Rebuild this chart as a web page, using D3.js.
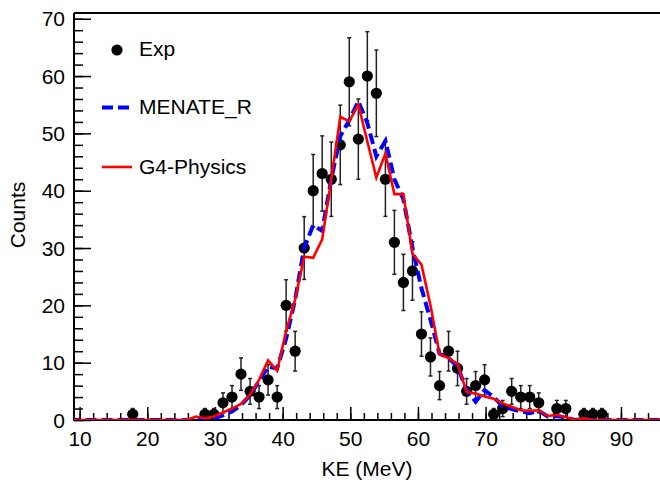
<!DOCTYPE html>
<html>
<head>
<meta charset="utf-8">
<script src="https://cdn.jsdelivr.net/npm/d3@7"></script>
<style>
  html, body { margin: 0; padding: 0; background: #fff; }
  svg { display: block; font-family: "Liberation Sans", Arial, sans-serif; }
</style>
</head>
<body>
<svg id="chart" width="660" height="482"></svg>
<script>
// Measured spectrum: bin centres (MeV), counts and statistical errors
const expE = [17.85, 28.52, 29.85, 31.19, 32.52, 33.85, 35.19, 36.52, 37.85, 39.19,
  40.52, 41.85, 43.19, 44.52, 45.85, 47.19, 48.52, 49.85, 51.19, 52.52,
  53.85, 55.19, 56.52, 57.85, 59.19, 60.52, 61.85, 63.19, 64.52, 65.85,
  67.19, 68.52, 69.85, 71.19, 72.52, 73.85, 75.19, 76.52, 77.85, 80.52,
  81.85, 84.52, 85.85, 87.19];
const expCounts = [1, 1, 1, 3, 4, 8, 5, 4, 7, 4,
  20, 12, 30, 40, 43, 42, 48, 59, 49, 60,
  57, 42, 31, 24, 26, 15, 11, 6, 12, 9,
  5, 6, 7, 1, 2, 5, 4, 4, 3, 2,
  2, 1, 1, 1];
const expErr = [1.0, 1.0, 1.0, 1.73, 2.0, 2.83, 2.24, 2.0, 2.65, 2.0,
  4.47, 3.46, 5.48, 6.32, 6.56, 6.48, 6.93, 7.68, 7.0, 7.75,
  7.55, 6.48, 5.57, 4.9, 5.1, 3.87, 3.32, 2.45, 3.46, 3.0,
  2.24, 2.45, 2.65, 1.0, 1.41, 2.24, 2.0, 2.0, 1.73, 1.41,
  1.41, 1.0, 1.0, 1.0];

// Simulated spectra on the same binning
const simE = [8.52, 9.85, 11.19, 12.52, 13.85, 15.19, 16.52, 17.85, 19.19, 20.52,
  21.85, 23.19, 24.52, 25.85, 27.19, 28.52, 29.85, 31.19, 32.52, 33.85,
  35.19, 36.52, 37.85, 39.19, 40.52, 41.85, 43.19, 44.52, 45.85, 47.19,
  48.52, 49.85, 51.19, 52.52, 53.85, 55.19, 56.52, 57.85, 59.19, 60.52,
  61.85, 63.19, 64.52, 65.85, 67.19, 68.52, 69.85, 71.19, 72.52, 73.85,
  75.19, 76.52, 77.85, 79.19, 80.52, 81.85, 83.19, 84.52, 85.85, 87.19,
  88.52, 89.85, 91.19, 92.52, 93.85, 95.19, 96.52];
const menateR = [0, 0, 0, 0, 0, 0, 0, 0, 0, 0,
  0, 0, 0, 0, 0.1, 0.1, 0.3, 0.8, 1.5, 2.6,
  4.3, 6.8, 9.3, 9.0, 14.2, 21.0, 30.0, 34.0, 33.0, 42.0,
  49.5, 52.3, 55.6, 51.8, 46.0, 48.7, 42.0, 38.5, 30.0, 23.0,
  17.5, 11.6, 10.8, 9.3, 5.2, 3.2, 5.2, 4.0, 2.4, 1.9,
  1.5, 1.2, 1.6, 0.6, 0.7, 0.4, 0, 0.2, 0, 0,
  0, 0, 0, 0, 0, 0, 0];
const g4Physics = [0, 0, 0, 0, 0, 0, 0, 0, 0, 0,
  0, 0, 0, 0, 0.6, 0.3, 0.6, 1.3, 2.0, 2.8,
  4.4, 7.0, 10.4, 8.6, 15.5, 21.0, 28.5, 28.3, 31.5, 42.0,
  52.9, 52.1, 55.0, 48.6, 42.3, 46.5, 39.4, 39.4, 29.0, 27.1,
  20.0, 11.5, 10.8, 9.8, 4.9, 4.6, 4.1, 3.7, 2.9, 2.3,
  1.7, 1.6, 1.7, 0.7, 0.9, 0.5, 0, 0.3, 0, 0,
  0, 0, 0, 0, 0, 0, 0];

const xMajor = [10, 20, 30, 40, 50, 60, 70, 80, 90];
const yMajor = [0, 10, 20, 30, 40, 50, 60, 70];
const legendLabels = ["Exp", "MENATE_R", "G4-Physics"];

const padL = 74, padR = 660, padT = 13, padB = 420;
const svg = d3.select("#chart");

const x = d3.scaleLinear().domain([9.17, 95.77]).range([padL, padR]);
const y = d3.scaleLinear().domain([0, 71]).range([padB, padT]);

svg.append("defs").append("clipPath").attr("id", "plot")
  .append("rect").attr("x", padL).attr("y", padT)
  .attr("width", padR - padL).attr("height", padB - padT);

const fontSize = 21;

// x axis: minor ticks every 2 MeV, major every 10 MeV, pointing inward
const xMinor = d3.range(10, 96, 2);
svg.append("g").attr("transform", `translate(0,${padB})`)
  .call(d3.axisBottom(x).tickValues(xMinor).tickSize(-7).tickFormat(""))
  .call(g => g.select(".domain").remove())
  .call(g => g.selectAll("line").attr("stroke", "#000").attr("stroke-width", 1.5));
svg.append("g").attr("transform", `translate(0,${padB})`)
  .call(d3.axisBottom(x).tickValues(xMajor).tickSize(-13).tickPadding(11).tickFormat(d3.format("d")))
  .call(g => g.select(".domain").remove())
  .call(g => g.selectAll("line").attr("stroke", "#000").attr("stroke-width", 1.5))
  .call(g => g.selectAll("text").attr("font-size", fontSize)
    .attr("font-family", "Liberation Sans, Arial, sans-serif").attr("fill", "#000"));

// y axis: minor ticks every 2 counts, major every 10
const yMinor = d3.range(0, 71, 2);
svg.append("g").attr("transform", `translate(${padL},0)`)
  .call(d3.axisLeft(y).tickValues(yMinor).tickSize(-9).tickFormat(""))
  .call(g => g.select(".domain").remove())
  .call(g => g.selectAll("line").attr("stroke", "#000").attr("stroke-width", 1.5));
svg.append("g").attr("transform", `translate(${padL},0)`)
  .call(d3.axisLeft(y).tickValues(yMajor).tickSize(-17).tickPadding(9).tickFormat(d3.format("d")))
  .call(g => g.select(".domain").remove())
  .call(g => g.selectAll("line").attr("stroke", "#000").attr("stroke-width", 1.5))
  .call(g => g.selectAll("text").attr("font-size", fontSize).attr("dy", "0.34em")
    .attr("font-family", "Liberation Sans, Arial, sans-serif").attr("fill", "#000"));

// frame: left, bottom and top lines
svg.append("path")
  .attr("d", `M${padL},${padT}H${padR}M${padL},${padT}V${padB}H${padR}`)
  .attr("fill", "none").attr("stroke", "#000").attr("stroke-width", 2);

// axis titles
svg.append("text").attr("x", 367).attr("y", 476).attr("text-anchor", "middle")
  .attr("font-size", fontSize).text("KE (MeV)");
svg.append("text").attr("transform", "translate(25,215) rotate(-90)")
  .attr("text-anchor", "middle").attr("font-size", fontSize).text("Counts");

const plot = svg.append("g").attr("clip-path", "url(#plot)");

// experimental points with error bars
const expData = expE.map((e, i) => ({ e, c: expCounts[i], s: expErr[i] }));
const bars = plot.append("g").attr("stroke", "#222").attr("stroke-width", 1.5);
bars.selectAll("line.v").data(expData).join("line").attr("class", "v")
  .attr("x1", d => x(d.e)).attr("x2", d => x(d.e))
  .attr("y1", d => y(d.c - d.s)).attr("y2", d => y(d.c + d.s));
bars.selectAll("line.t").data(expData).join("line").attr("class", "t")
  .attr("x1", d => x(d.e) - 2).attr("x2", d => x(d.e) + 2)
  .attr("y1", d => y(d.c + d.s)).attr("y2", d => y(d.c + d.s));
bars.selectAll("line.b").data(expData).join("line").attr("class", "b")
  .attr("x1", d => x(d.e) - 2).attr("x2", d => x(d.e) + 2)
  .attr("y1", d => y(d.c - d.s)).attr("y2", d => y(d.c - d.s));
plot.append("g").selectAll("circle").data(expData).join("circle")
  .attr("cx", d => x(d.e)).attr("cy", d => y(d.c)).attr("r", 5.6).attr("fill", "#000");

// simulated spectra
const line = d3.line().x(d => x(d[0])).y(d => y(d[1]));
plot.append("path").datum(simE.map((e, i) => [e, menateR[i]]))
  .attr("d", line).attr("fill", "none").attr("stroke", "#0000ff")
  .attr("stroke-width", 4).attr("stroke-dasharray", "11,5");
plot.append("path").datum(simE.map((e, i) => [e, g4Physics[i]]))
  .attr("d", line).attr("fill", "none").attr("stroke", "#ff0000")
  .attr("stroke-width", 2.6).attr("stroke-linejoin", "miter");

// legend
const lg = svg.append("g");
lg.append("circle").attr("cx", 117).attr("cy", 50).attr("r", 5.6).attr("fill", "#000");
lg.append("line").attr("x1", 102).attr("x2", 130).attr("y1", 107.5).attr("y2", 107.5)
  .attr("stroke", "#0000ff").attr("stroke-width", 4).attr("stroke-dasharray", "11,5");
lg.append("line").attr("x1", 102).attr("x2", 132).attr("y1", 167).attr("y2", 167)
  .attr("stroke", "#ff0000").attr("stroke-width", 2.6);
lg.selectAll("text").data(legendLabels).join("text")
  .attr("x", 139).attr("y", (d, i) => [56, 114, 174][i])
  .attr("font-size", fontSize).text(d => d);
</script>
</body>
</html>
